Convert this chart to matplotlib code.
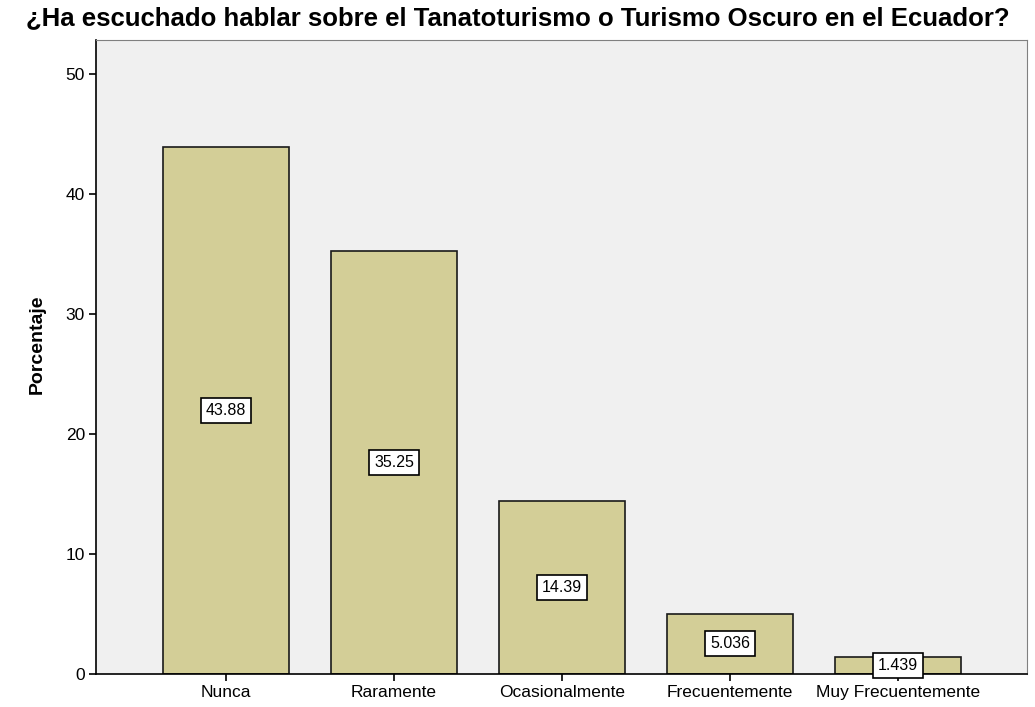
import matplotlib
matplotlib.use("Agg")
import matplotlib.pyplot as plt

categories = ["Nunca", "Raramente", "Ocasionalmente", "Frecuentemente", "Muy Frecuentemente"]
values = [43.88, 35.25, 14.39, 5.036, 1.439]
value_labels = ["43.88", "35.25", "14.39", "5.036", "1.439"]
yticks = [0, 10, 20, 30, 40, 50]

plt.rcParams['font.family'] = ['Liberation Sans', 'DejaVu Sans']

fig = plt.figure(figsize=(10.35, 7.07), dpi=100)
ax = fig.add_axes([0.0928, 0.0467, 0.8995, 0.8967])
ax.set_facecolor('#f0f0f0')

x = list(range(len(categories)))
ax.bar(x, values, width=0.75, color='#d3ce97', edgecolor='#1a1a1a', linewidth=1.2, zorder=2)

for xi, v, lab in zip(x, values, value_labels):
    ax.text(xi, max(v / 2, 0.45), lab, ha='center', va='center', fontsize=11.5, zorder=3,
            bbox=dict(boxstyle='square,pad=0.32', facecolor='white', edgecolor='black', linewidth=1.2))

ax.set_xlim(-0.774, 4.768)
ax.set_ylim(0, 52.8)
ax.set_xticks(x)
ax.set_xticklabels(categories, fontsize=12.5)
ax.set_yticks(yticks)
ax.set_yticklabels([str(t) for t in yticks], fontsize=12.5)
ax.tick_params(axis='both', length=5, width=1.2, color='black', pad=3)
ax.set_ylabel('Porcentaje', fontsize=14, fontweight='bold', labelpad=12)
ax.yaxis.set_label_coords(-0.054, 0.52)

for s in ['top', 'right']:
    ax.spines[s].set_color('#808080')
for s in ['left', 'bottom']:
    ax.spines[s].set_color('black')
    ax.spines[s].set_linewidth(1.2)

fig.suptitle('¿Ha escuchado hablar sobre el Tanatoturismo o Turismo Oscuro en el Ecuador?',
             fontsize=18.5, fontweight='bold', y=0.992, x=0.5)

fig.savefig('out.png', dpi=100, facecolor='white')
